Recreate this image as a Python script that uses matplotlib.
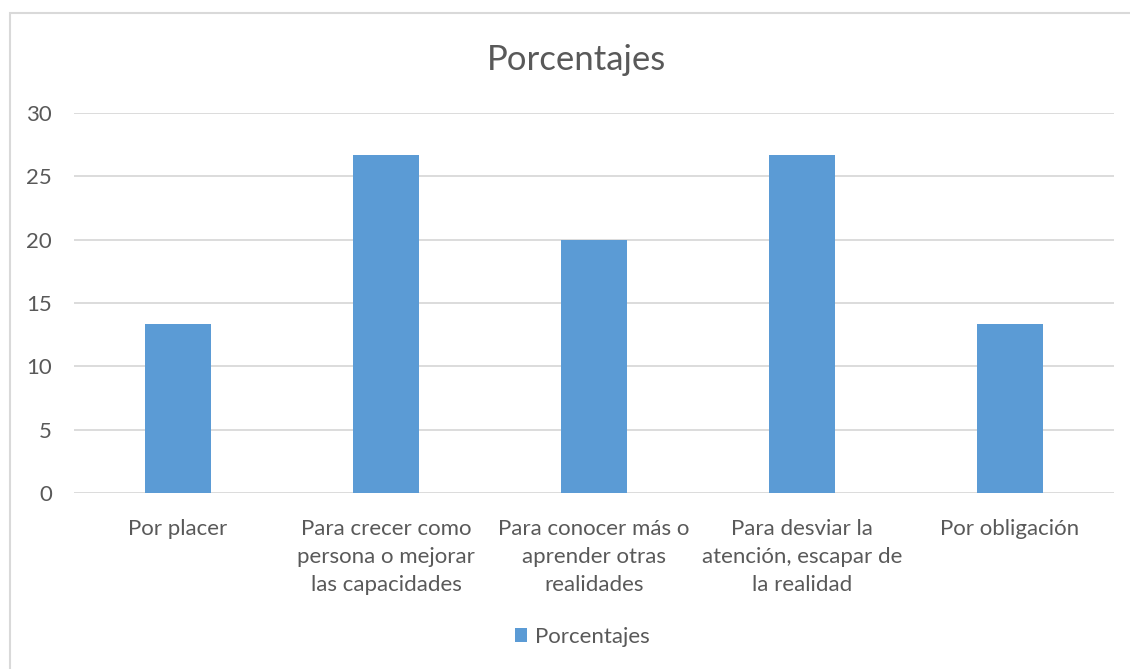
import matplotlib.pyplot as plt
from matplotlib.patches import Rectangle

categorias = ['Por placer',
              'Para crecer como\npersona o mejorar\nlas capacidades',
              'Para conocer más o\naprender otras\nrealidades',
              'Para desviar la\natención, escapar de\nla realidad',
              'Por obligación']
porcentajes = [13.33, 26.67, 20.0, 26.67, 13.33]
ticks_y = [0, 5, 10, 15, 20, 25, 30]

azul = '#5B9BD5'
gris_texto = '#595959'
gris_linea = '#D9D9D9'

plt.rcParams['font.family'] = ['Lato', 'DejaVu Sans']

fig = plt.figure(figsize=(11.3, 6.69), dpi=100)
ax = fig.add_axes([74 / 1130, 1 - 493 / 669, 1040 / 1130, 380 / 669])

# marco del gráfico
fig.patches.append(Rectangle((10 / 1130, -0.1), 1.2, 1 - 13 / 669 + 0.1,
                             transform=fig.transFigure, fill=False,
                             edgecolor=gris_linea, linewidth=1.5))

x = range(len(categorias))
ax.bar(x, porcentajes, width=0.317, color=azul, label='Porcentajes', zorder=3)

ax.set_xlim(-0.5, len(categorias) - 0.5)
ax.set_ylim(0, 30)
ax.set_yticks(ticks_y)
ax.set_xticks(list(x))
ax.set_xticklabels(categorias, linespacing=1.5)
ax.grid(axis='y', color=gris_linea, linewidth=1.3, zorder=0)
for s in ax.spines.values():
    s.set_visible(False)
ax.tick_params(axis='both', length=0, colors=gris_texto, labelsize=16)
ax.tick_params(axis='y', pad=16)
ax.tick_params(axis='x', pad=19)

fig.text(577 / 1130, 1 - 60 / 669, 'Porcentajes', ha='center', va='center',
         fontsize=25, color=gris_texto)

ax.legend(loc='center', bbox_to_anchor=((582 - 74) / 1040, (493 - 637) / 380),
          frameon=False, fontsize=16, labelcolor=gris_texto,
          handlelength=0.55, handleheight=0.55, handletextpad=0.35)

fig.savefig('out.png', dpi=100)
